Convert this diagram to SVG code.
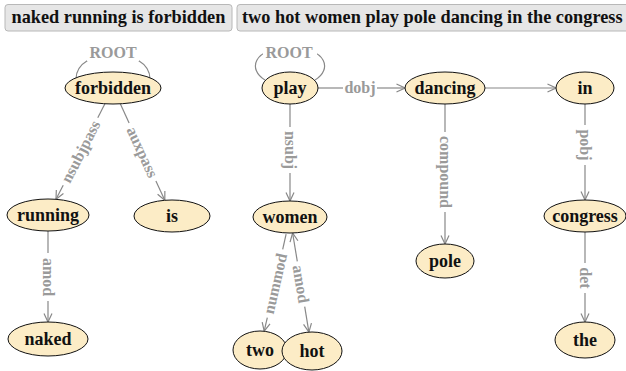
<svg xmlns="http://www.w3.org/2000/svg" width="626" height="371" viewBox="0 0 626 371">
<style>
.hdr{fill:#e6e6e6;stroke:#b8b8b8;stroke-width:1}
.htxt{font-family:"Liberation Serif",serif;font-weight:bold;font-size:18.3px;fill:#111}
.node ellipse{fill:#fcecc6;stroke:#111;stroke-width:1}
.node text{font-family:"Liberation Serif",serif;font-weight:bold;font-size:18px;fill:#111;text-anchor:middle}
.edge{fill:none;stroke:#888;stroke-width:1.2}
.lbl{font-family:"Liberation Serif",serif;font-weight:bold;font-size:16px;fill:#9a9a9a;text-anchor:middle;dominant-baseline:central}
.root{font-family:"Liberation Serif",serif;font-weight:bold;font-size:16px;fill:#9a9a9a;text-anchor:middle}
</style>
<defs>
<marker id="arr" viewBox="0 0 10 10" refX="9.5" refY="5" markerWidth="10" markerHeight="10" markerUnits="userSpaceOnUse" orient="auto-start-reverse">
<path d="M1,1 L9.5,5 L1,9" fill="none" stroke="#888" stroke-width="1.2"/>
</marker>
</defs>
<rect width="626" height="371" fill="#fff"/>
<g id="header">
<rect class="hdr" x="5" y="4.5" width="227" height="26.5" rx="3"/>
<text class="htxt" x="11.5" y="23">naked running is forbidden</text>
<rect class="hdr" x="237" y="4.5" width="400" height="26.5" rx="3"/>
<text class="htxt" x="242" y="23">two hot women play pole dancing in the congress</text>
</g>
<g id="connectors">
<path class="edge" d="M76,79 C76,46 150,46 150,79"/>
<path class="edge" d="M265,80 C248,70 252,48 290,48 C328,48 332,70 315,80"/>
<rect x="87" y="42" width="52" height="19" fill="#fff"/>
<rect x="263" y="42" width="54" height="19" fill="#fff"/>
<text class="root" x="113" y="58">ROOT</text>
<text class="root" x="289" y="58">ROOT</text>
<path class="edge" d="M104.9,103.8 L97.8,117.7"/>
<path class="edge" d="M63.2,185.3 L56,199.3" marker-end="url(#arr)"/>
<text class="lbl" transform="translate(80.5,151.5) rotate(-62.9)">nsubjpass</text>
<path class="edge" d="M120.3,103.8 L129.1,122.9"/>
<path class="edge" d="M155.9,181.1 L164.8,200.3" marker-end="url(#arr)"/>
<text class="lbl" transform="translate(142.5,152) rotate(65.25)">auxpass</text>
<path class="edge" d="M48,231 L48,253"/>
<path class="edge" d="M48,301 L48,322" marker-end="url(#arr)"/>
<text class="lbl" transform="translate(48,277) rotate(90)">amod</text>
<path class="edge" d="M290,104 L290,127"/>
<path class="edge" d="M290,173 L290,201" marker-end="url(#arr)"/>
<text class="lbl" transform="translate(290,150) rotate(90)">nsubj</text>
<path class="edge" d="M318,88 L343,88"/>
<path class="edge" d="M377,88 L405,88" marker-end="url(#arr)"/>
<text class="lbl" x="360" y="87">dobj</text>
<path class="edge" d="M485,88 L556,88" marker-end="url(#arr)"/>
<path class="edge" d="M445,104 L445,132"/>
<path class="edge" d="M445,212 L445,244" marker-end="url(#arr)"/>
<text class="lbl" transform="translate(445,172) rotate(90)">compound</text>
<path class="edge" d="M585,104 L585,125"/>
<path class="edge" d="M585,165 L585,200" marker-end="url(#arr)"/>
<text class="lbl" transform="translate(585,145) rotate(90)">pobj</text>
<path class="edge" d="M585,232 L585,263"/>
<path class="edge" d="M585,293 L585,322" marker-end="url(#arr)"/>
<text class="lbl" transform="translate(585,278) rotate(90)">det</text>
<path class="edge" d="M286.1,234.1 L282.7,249.4"/>
<path class="edge" d="M267.3,317.6 L264.2,331.2" marker-end="url(#arr)"/>
<text class="lbl" transform="translate(275,283.5) rotate(-77.3)">nummod</text>
<path class="edge" d="M292.6,233 L297.3,261.3" marker-start="url(#arr)"/>
<path class="edge" d="M304.7,306.7 L308.9,332.1" marker-end="url(#arr)"/>
<text class="lbl" transform="translate(301,284) rotate(80.7)">amod</text>
</g>
<g id="n-forbidden" class="node"><ellipse cx="113" cy="88" rx="48" ry="16"/><text x="113" y="94">forbidden</text></g>
<g id="n-running" class="node"><ellipse cx="48" cy="215" rx="41" ry="16"/><text x="48" y="221">running</text></g>
<g id="n-is" class="node"><ellipse cx="172" cy="216" rx="38" ry="16"/><text x="172" y="222">is</text></g>
<g id="n-naked" class="node"><ellipse cx="48" cy="339" rx="40" ry="17"/><text x="48" y="345">naked</text></g>
<g id="n-play" class="node"><ellipse cx="290" cy="88" rx="28" ry="16"/><text x="290" y="94">play</text></g>
<g id="n-dancing" class="node"><ellipse cx="445" cy="88" rx="40" ry="16"/><text x="445" y="94">dancing</text></g>
<g id="n-in" class="node"><ellipse cx="585" cy="88" rx="29" ry="16"/><text x="585" y="94">in</text></g>
<g id="n-women" class="node"><ellipse cx="290" cy="217" rx="37" ry="16"/><text x="290" y="223">women</text></g>
<g id="n-pole" class="node"><ellipse cx="445" cy="261" rx="29" ry="17"/><text x="445" y="267">pole</text></g>
<g id="n-congress" class="node"><ellipse cx="585" cy="216" rx="41" ry="16"/><text x="585" y="222">congress</text></g>
<g id="n-the" class="node"><ellipse cx="585" cy="340" rx="30" ry="18"/><text x="585" y="346">the</text></g>
<g id="n-two" class="node"><ellipse cx="260" cy="350" rx="27" ry="19"/><text x="260" y="356">two</text></g>
<g id="n-hot" class="node"><ellipse cx="312" cy="351" rx="30" ry="19"/><text x="312" y="357">hot</text></g>
</svg>
